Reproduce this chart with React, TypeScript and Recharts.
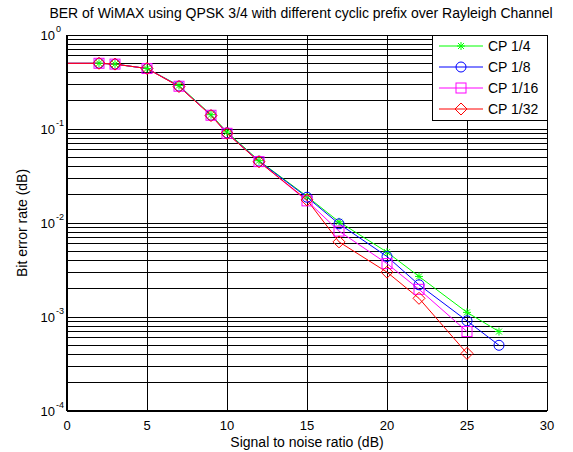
import React from "react"
import {
  LineChart,
  Line,
  XAxis,
  YAxis,
  CartesianGrid,
  Legend,
} from "recharts"

const snr = [0, 2, 3, 5, 7, 9, 10, 12, 15, 17, 20, 22, 25, 27]
const cp4 = [0.5, 0.5, 0.49, 0.44, 0.29, 0.142, 0.093, 0.046, 0.0192, 0.0103, 0.0049, 0.0027, 0.00112, 0.0007]
const cp8 = [0.5, 0.5, 0.49, 0.44, 0.286, 0.14, 0.091, 0.0455, 0.0188, 0.0098, 0.0044, 0.0022, 0.00091, 0.0005]
const cp16 = [0.5, 0.5, 0.49, 0.44, 0.285, 0.14, 0.09, 0.045, 0.0172, 0.0082, 0.0037, 0.00197, 0.0007, null]
const cp32 = [0.5, 0.5, 0.49, 0.44, 0.283, 0.139, 0.09, 0.0448, 0.0176, 0.0063, 0.003, 0.00158, 0.00041, null]

const xTicks = [0, 5, 10, 15, 20, 25, 30]
const decades = [-4, -3, -2, -1]
const title = "BER of WiMAX using QPSK 3/4 with different cyclic prefix over Rayleigh Channel"

const font = "'Liberation Sans', Arial, sans-serif"

const series = [
  { key: "cp4", name: "CP 1/4", color: "#00ff00", shape: "star" },
  { key: "cp8", name: "CP 1/8", color: "#0000ff", shape: "circle" },
  { key: "cp16", name: "CP 1/16", color: "#ff00ff", shape: "square" },
  { key: "cp32", name: "CP 1/32", color: "#ff0000", shape: "diamond" },
]

const data = snr.map((s, i) => ({
  snr: s,
  cp4: cp4[i],
  cp8: cp8[i],
  cp16: cp16[i],
  cp32: cp32[i],
}))

// every 1..9 x 10^k line, like matlab's minor log grid
const yTicks = [
  ...decades.flatMap((d) => [1, 2, 3, 4, 5, 6, 7, 8, 9].map((m) => m * Math.pow(10, d))),
  1,
]

const isDecade = (v: number) => Math.abs(Math.log10(v) - Math.round(Math.log10(v))) < 1e-9

function Marker({ shape, color, cx, cy }: { shape: string; color: string; cx: number; cy: number }) {
  if (shape === "star") {
    const r = 4
    const d = 3
    return (
      <g stroke={color} strokeWidth={1}>
        <line x1={cx - r} y1={cy} x2={cx + r} y2={cy} />
        <line x1={cx} y1={cy - r} x2={cx} y2={cy + r} />
        <line x1={cx - d} y1={cy - d} x2={cx + d} y2={cy + d} />
        <line x1={cx - d} y1={cy + d} x2={cx + d} y2={cy - d} />
      </g>
    )
  }
  if (shape === "circle") {
    return <circle cx={cx} cy={cy} r={5} fill="none" stroke={color} strokeWidth={1} />
  }
  if (shape === "square") {
    return <rect x={cx - 5} y={cy - 5} width={10} height={10} fill="none" stroke={color} strokeWidth={1} />
  }
  const h = 6
  return (
    <polygon
      points={`${cx},${cy - h} ${cx + h},${cy} ${cx},${cy + h} ${cx - h},${cy}`}
      fill="none"
      stroke={color}
      strokeWidth={1}
    />
  )
}

function makeDot(shape: string, color: string) {
  return (props: any) => {
    const { cx, cy, index, payload, value } = props
    if (value == null || cy == null || payload.snr === 0) return <g key={`d-${index}`} />
    return (
      <g key={`d-${index}`}>
        <Marker shape={shape} color={color} cx={cx} cy={cy} />
      </g>
    )
  }
}

function YTick(props: any) {
  const { x, y, payload } = props
  const v = payload.value
  if (!isDecade(v)) return <g />
  const exp = Math.round(Math.log10(v))
  return (
    <g fontFamily={font} fill="#000">
      <text x={x - 4} y={y + 5} textAnchor="end" fontSize={13}>
        10
      </text>
      <text x={x - 3} y={y - 3} textAnchor="start" fontSize={9}>
        {exp}
      </text>
    </g>
  )
}

function LegendBox() {
  return (
    <svg width={116} height={86} style={{ display: "block" }}>
      <rect x={0.5} y={0.5} width={115} height={85} fill="#fff" stroke="#000" strokeWidth={1} />
      {series.map((s, i) => {
        const cy = 11 + i * 21
        return (
          <g key={s.key}>
            <line x1={7} y1={cy} x2={51} y2={cy} stroke={s.color} strokeWidth={1} />
            <Marker shape={s.shape} color={s.color} cx={29} cy={cy} />
            <text x={56} y={cy + 5} fontSize={14} fontFamily={font} fill="#000">
              {s.name}
            </text>
          </g>
        )
      })}
    </svg>
  )
}

export default function App() {
  return (
    <div style={{ position: "absolute", left: 0, top: 0, width: 573, height: 452, background: "#fff" }}>
      <div
        style={{
          position: "absolute",
          left: 0,
          top: 5,
          width: 602,
          textAlign: "center",
          fontFamily: font,
          fontSize: 14,
          whiteSpace: "nowrap",
          zIndex: 2,
        }}
      >
        {title}
      </div>
      <LineChart width={573} height={452} data={data} margin={{ top: 35, right: 26, bottom: 0, left: 0 }}>
        <CartesianGrid
          stroke="#000"
          strokeWidth={1}
          strokeOpacity={1}
          shapeRendering="crispEdges"
          horizontal
          vertical
        />
        <XAxis
          dataKey="snr"
          type="number"
          domain={[0, 30]}
          ticks={xTicks}
          height={41}
          axisLine={{ stroke: "#000", strokeWidth: 1.5, shapeRendering: "crispEdges" }}
          tickLine={false}
          tick={{ fill: "#000", fontSize: 13, fontFamily: font }}
          tickMargin={4}
          label={{
            value: "Signal to noise ratio (dB)",
            position: "insideBottom",
            offset: 5,
            style: { fill: "#000", fontSize: 14, fontFamily: font },
          }}
        />
        <YAxis
          type="number"
          scale="log"
          domain={[1e-4, 1]}
          allowDataOverflow
          ticks={yTicks}
          interval={0}
          width={67}
          axisLine={{ stroke: "#000", strokeWidth: 1.5, shapeRendering: "crispEdges" }}
          tickLine={false}
          tick={<YTick />}
          label={{
            value: "Bit error rate (dB)",
            angle: -90,
            position: "insideLeft",
            offset: 22,
            style: { fill: "#000", fontSize: 14, fontFamily: font, textAnchor: "middle" },
          }}
        />
        <Legend
          layout="vertical"
          align="center"
          verticalAlign="middle"
          wrapperStyle={{ left: 432, top: 35, width: 116, height: 86 }}
          content={() => <LegendBox />}
        />
        {series.map((s) => (
          <Line
            key={s.key}
            dataKey={s.key}
            name={s.name}
            stroke={s.color}
            strokeWidth={1}
            dot={makeDot(s.shape, s.color)}
            activeDot={false}
            isAnimationActive={false}
            connectNulls={false}
          />
        ))}
      </LineChart>
    </div>
  )
}
